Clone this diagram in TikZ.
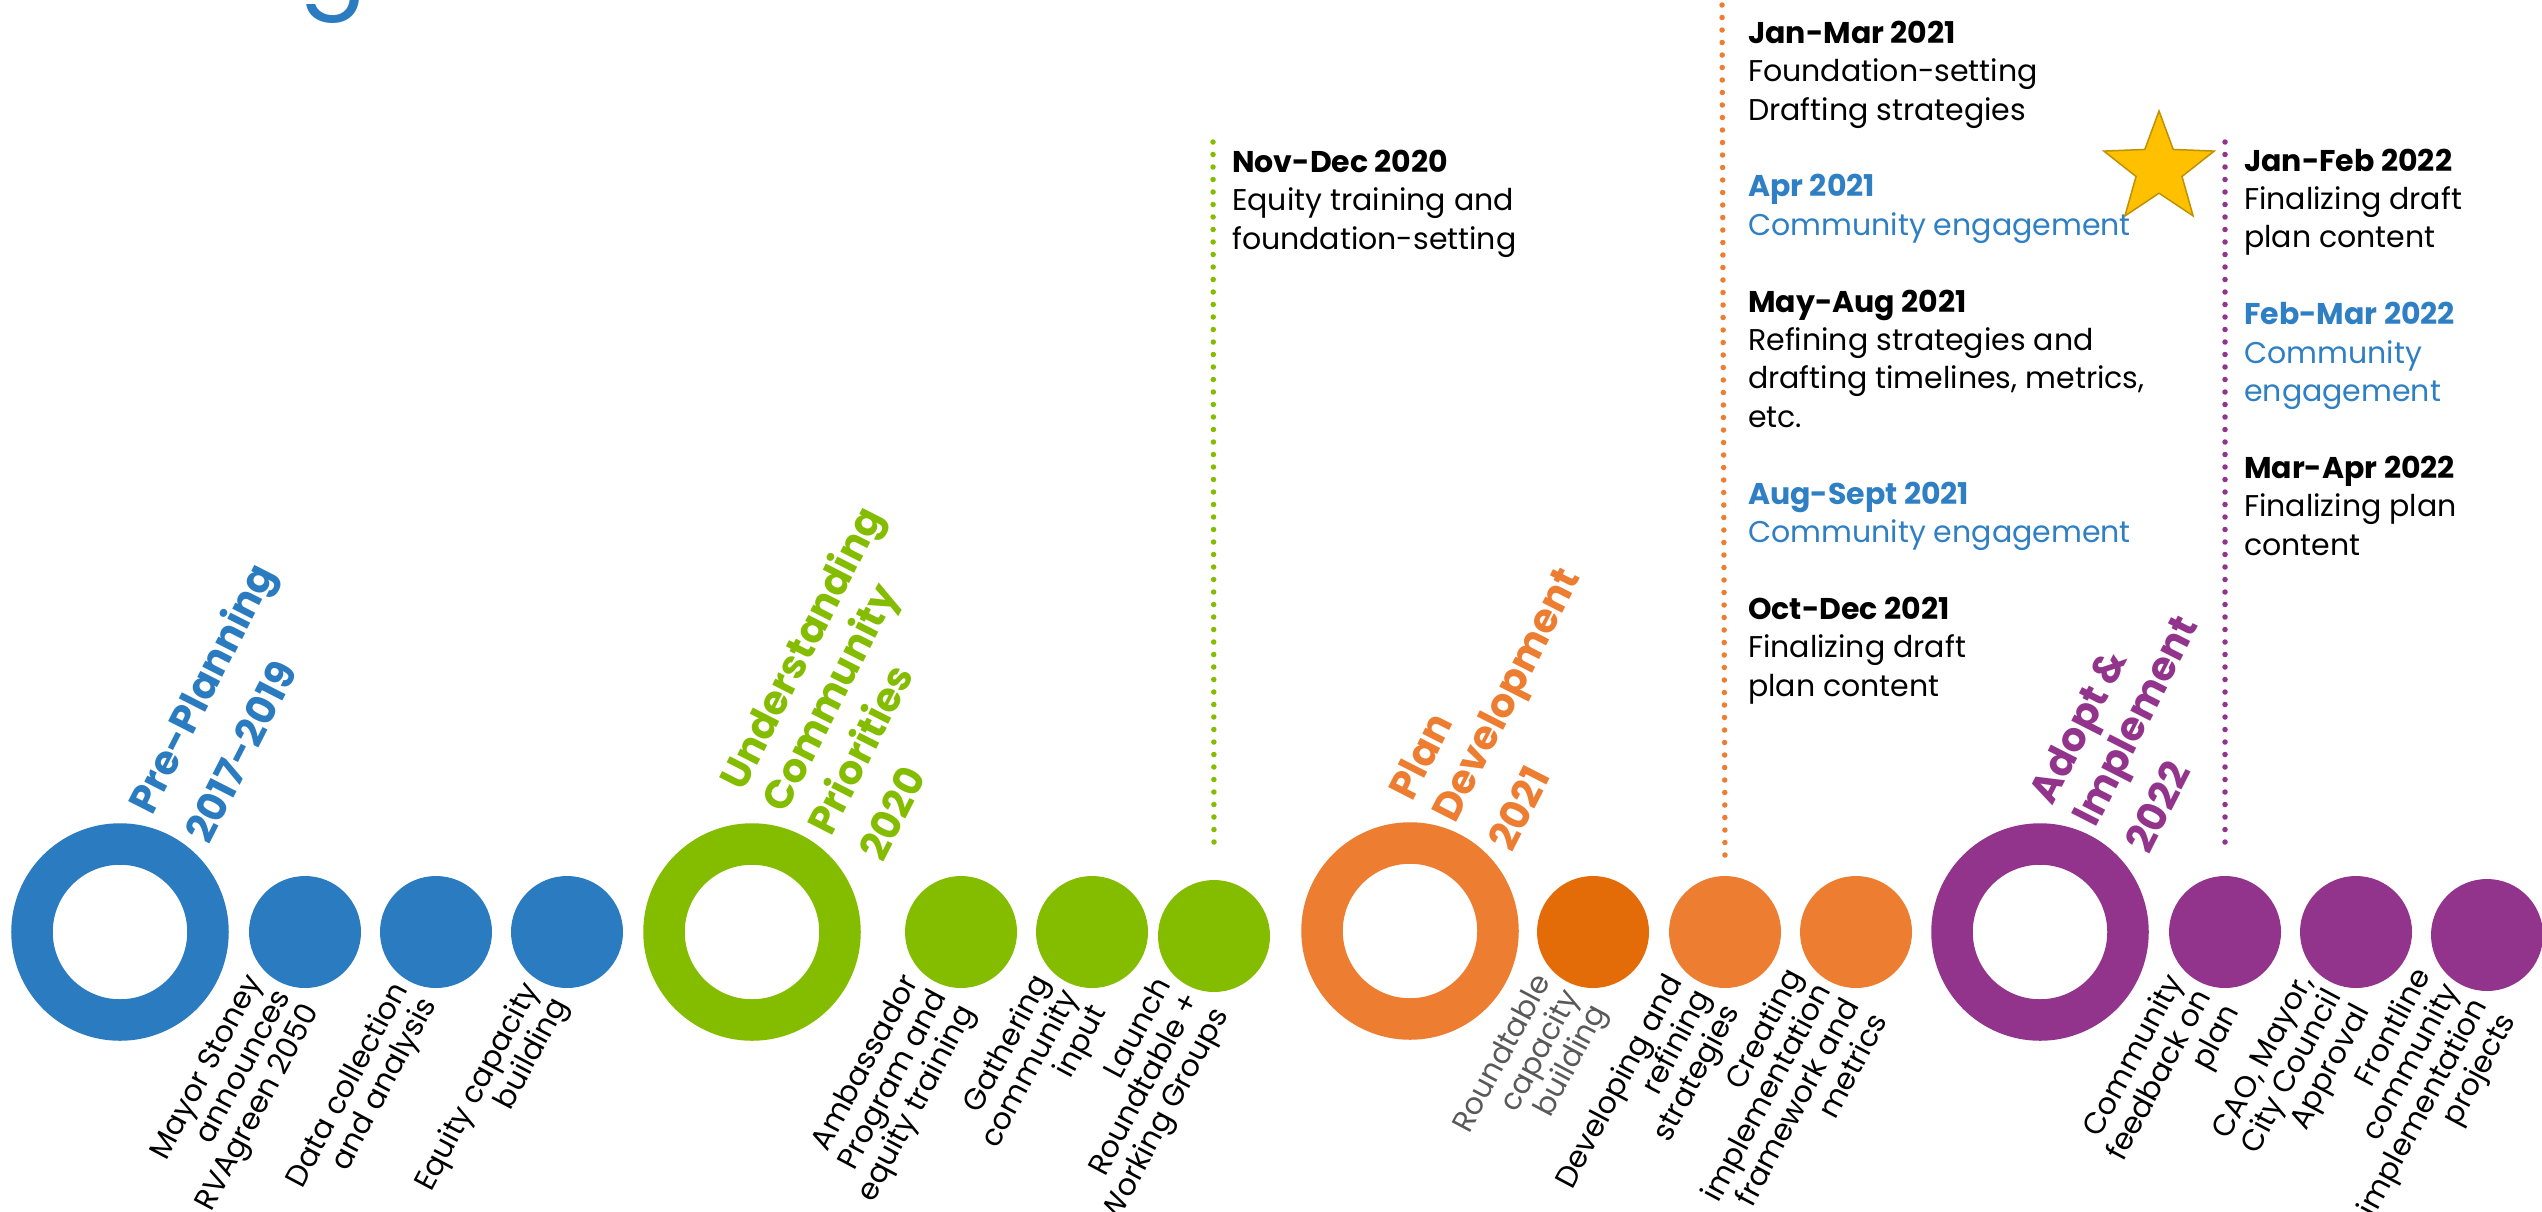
\documentclass[tikz,border=0pt]{standalone}
\usepackage{fontspec}
\setmainfont{Poppins}
\usetikzlibrary{shapes.geometric}
\definecolor{cblue}{HTML}{2A7BC0}
\definecolor{cgreen}{HTML}{84BC00}
\definecolor{corange}{HTML}{ED7D31}
\definecolor{cdorange}{HTML}{E36C09}
\definecolor{cpurple}{HTML}{92338C}
\definecolor{ctblue}{HTML}{2E7FC3}
\definecolor{cgold}{HTML}{FFC000}
\definecolor{cgoldline}{HTML}{BF9000}
\definecolor{cgraytext}{HTML}{595959}
\begin{document}
\begin{tikzpicture}[x=1pt,y=1pt,
  ring/.style={circle, draw=#1, line width=41.5pt, minimum size=176pt, inner sep=0pt},
  dotc/.style={circle, fill=#1, minimum size=112pt, inner sep=0pt},
  phase/.style={text=#1, font=\bfseries\fontsize{40}{48}\selectfont, rotate=63, anchor=base west, align=left, inner sep=0pt},
  lbl/.style={font=\fontsize{30}{32}\selectfont, rotate=62, anchor=east, align=right, inner sep=0pt},
  dotline/.style={draw=#1, line width=5.5pt, line cap=round, dash pattern=on 0pt off 12.5pt},
  entry/.style={font=\fontsize{30}{38.4}\selectfont, anchor=base west, align=left, inner sep=0pt}
]
\useasboundingbox (0,0) rectangle (2542,-1211);
\clip (0,0) rectangle (2542,-1211);

% cut-off title letter
\node (gfrag) [anchor=base west, inner sep=0pt, text=cblue, font=\fontsize{100}{100}\selectfont] at (299,4) {g};

% rings
\node (r1) [ring=cblue] at (120,-932) {};
\node (r2) [ring=cgreen] at (752,-932) {};
\node (r3) [ring=corange] at (1410,-931) {};
\node (r4) [ring=cpurple] at (2040,-932) {};

% dots
\node (b1) [dotc=cblue] at (305,-932) {};
\node (b2) [dotc=cblue] at (436,-932) {};
\node (b3) [dotc=cblue] at (567,-932) {};
\node (g1) [dotc=cgreen] at (961,-932) {};
\node (g2) [dotc=cgreen] at (1092,-932) {};
\node (g3) [dotc=cgreen] at (1214,-936) {};
\node (o1) [dotc=cdorange] at (1593,-932) {};
\node (o2) [dotc=corange] at (1725,-932) {};
\node (o3) [dotc=corange] at (1856,-932) {};
\node (p1) [dotc=cpurple] at (2225,-932) {};
\node (p2) [dotc=cpurple] at (2356,-932) {};
\node (p3) [dotc=cpurple] at (2487,-935) {};

% dotted lines
\coordinate (gtop) at (1213,-142);
\coordinate (otop) at (1722,-5);
\coordinate (ptop) at (2225,-142);
\draw[dotline=cgreen] (gtop) -- ([yshift=26pt]g3.north);
\draw[dotline=corange] (otop) -- ([yshift=9pt]o2.north);
\draw[dotline=cpurple] (ptop) -- ([yshift=22pt]p1.north);

% phase titles (anchor = base of last line)
\node (t1) [phase=cblue] at (209,-846) {Pre-Planning\\[16pt]2017-2019};
\node (t2) [phase=cgreen] at (883,-864) {Understanding\\Community\\[3pt]Priorities\\[10pt]2020};
\node (t3) [phase=corange] at (1512,-854) {Plan\\Development\\[16pt]2021};
\node (t4) [phase=cpurple] at (2149,-856) {Adopt \&\\Implement\\[12pt]2022};

% labels under dots
\node (l1) [lbl] at (285,-993) {Mayor Stoney\\announces\\RVAgreen 2050};
\node (l2) [lbl] at (416,-993) {Data collection\\and analysis};
\node (l3) [lbl] at (547,-993) {Equity capacity\\building};
\node (l4) [lbl] at (941,-993) {Ambassador\\Program and\\equity training};
\node (l5) [lbl] at (1072,-993) {Gathering\\community\\input};
\node (l6) [lbl] at (1194,-996) {Launch\\Roundtable +\\Working Groups};
\node (l7) [lbl, text=cgraytext] at (1573,-993) {Roundtable\\capacity\\building};
\node (l8) [lbl] at (1705,-993) {Developing and\\refining\\strategies};
\node (l9) [lbl] at (1836,-993) {Creating\\implementation\\framework and\\metrics};
\node (l10) [lbl] at (2205,-993) {Community\\feedback on\\plan};
\node (l11) [lbl] at (2336,-993) {CAO, Mayor,\\City Council\\Approval};
\node (l12) [lbl] at (2467,-994) {Frontline\\community\\implementation\\projects};

% schedule entries (anchor = base of last line)
\node (e1) [entry] at (1232,-249) {\textbf{Nov-Dec 2020}\\Equity training and\\foundation-setting};
\node (e2) [entry] at (1748,-696) {\textbf{Jan-Mar 2021}\\Foundation-setting\\Drafting strategies\\[38.4pt]
  \textcolor{ctblue}{\textbf{Apr 2021}}\\\textcolor{ctblue}{Community engagement}\\[38.4pt]
  \textbf{May-Aug 2021}\\Refining strategies and\\drafting timelines, metrics,\\etc.\\[38.4pt]
  \textcolor{ctblue}{\textbf{Aug-Sept 2021}}\\\textcolor{ctblue}{Community engagement}\\[38.4pt]
  \textbf{Oct-Dec 2021}\\Finalizing draft\\plan content};
\node (e3) [entry] at (2244,-555) {\textbf{Jan-Feb 2022}\\Finalizing draft\\plan content\\[38.4pt]
  \textcolor{ctblue}{\textbf{Feb-Mar 2022}}\\\textcolor{ctblue}{Community}\\\textcolor{ctblue}{engagement}\\[38.4pt]
  \textbf{Mar-Apr 2022}\\Finalizing plan\\content};

% star
\node (star) [star, star points=5, star point ratio=2.4, minimum size=116pt, inner sep=0pt, fill=cgold, draw=cgoldline, line width=1.5pt] at (2159,-169) {};
\end{tikzpicture}
\end{document}
